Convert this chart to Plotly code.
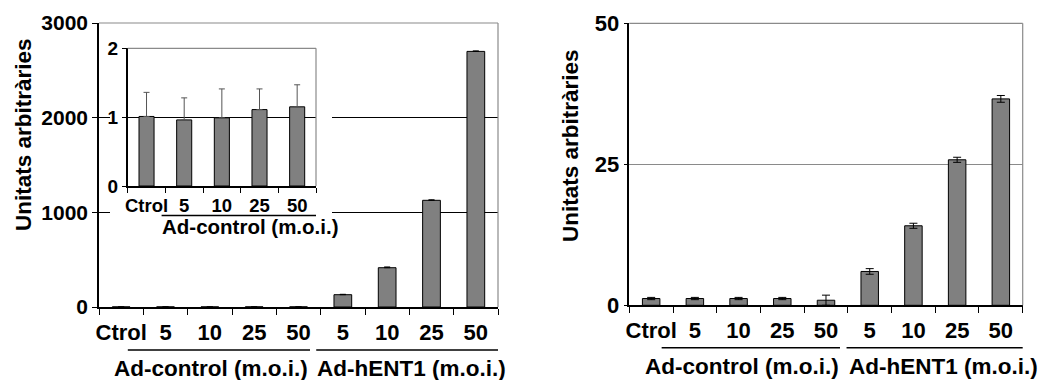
import plotly.graph_objects as go

# ---------------- data ----------------
categories = ["Ctrol", "5", "10", "25", "50", "5", "10", "25", "50"]
group_labels = ["Ad-control (m.o.i.)", "Ad-hENT1 (m.o.i.)"]

left_values = [1.0, 0.96, 0.99, 1.11, 1.15, 130, 415, 1127, 2700]
left_errors = [0.35, 0.32, 0.42, 0.30, 0.32, 4, 8, 5, 5]

inset_categories = ["Ctrol", "5", "10", "25", "50"]
inset_values = [1.01, 0.96, 0.99, 1.11, 1.15]
inset_errors = [0.35, 0.32, 0.42, 0.30, 0.32]

right_values = [1.2, 1.2, 1.2, 1.2, 0.9, 6.0, 14.1, 25.8, 36.6]
right_errors = [0.2, 0.2, 0.2, 0.2, 0.9, 0.5, 0.45, 0.45, 0.6]

y_title = "Unitats arbitràries"
left_ticks = [0, 1000, 2000, 3000]
inset_ticks = [0, 1, 2]
right_ticks = [0, 25, 50]

# ---------------- style ----------------
W, H = 1048, 380
FONT = "Liberation Sans"
BAR = "#808080"
GRID_GRAY = "#8a8a8a"


def px_x(p):
    return p / W


def px_y(p):
    return (H - p) / H


def font(size):
    return dict(family=FONT, size=size, color="black", weight="bold")


fig = go.Figure()

n = len(categories)
ni = len(inset_categories)
xs = list(range(n))
xsi = list(range(ni))

fig.add_trace(go.Bar(
    x=xs, y=left_values, width=0.4, xaxis="x", yaxis="y",
    marker=dict(color=BAR, line=dict(color="black", width=1)),
    error_y=dict(type="data", symmetric=False, array=left_errors,
                 arrayminus=[0] * n, color="black", thickness=1, width=3),
    showlegend=False, hoverinfo="skip",
))
fig.add_trace(go.Bar(
    x=xsi, y=inset_values, width=0.4, xaxis="x3", yaxis="y3",
    marker=dict(color=BAR, line=dict(color="black", width=1)),
    error_y=dict(type="data", symmetric=False, array=inset_errors,
                 arrayminus=[0] * ni, color="#555555", thickness=1, width=3),
    showlegend=False, hoverinfo="skip",
))
fig.add_trace(go.Bar(
    x=xs, y=right_values, width=0.4, xaxis="x4", yaxis="y4",
    marker=dict(color=BAR, line=dict(color="black", width=1)),
    error_y=dict(type="data", array=right_errors, color="black",
                 thickness=1, width=4),
    showlegend=False, hoverinfo="skip",
))


def xaxis_cfg(domain, count, size, ticklen=6, standoff=5):
    return dict(
        domain=domain, range=[-0.5, count - 0.5],
        tickmode="array", tickvals=list(range(count)),
        ticks="", showgrid=False, zeroline=False, automargin=False,
        showline=True, linecolor="black", linewidth=1.5,
        tickfont=font(size), ticklabelstandoff=standoff,
        minor=dict(tickmode="array", tickvals=[i - 0.5 for i in range(count + 1)],
                   ticks="outside", ticklen=ticklen, tickwidth=1,
                   tickcolor="black", showgrid=False),
        fixedrange=True,
    )


def yaxis_cfg(domain, rng, tickvals, size, gridcolor, ticklen=5):
    return dict(
        domain=domain, range=rng, tickmode="array", tickvals=tickvals,
        ticks="outside", ticklen=ticklen, tickwidth=1, tickcolor="black",
        showgrid=True, gridcolor=gridcolor, gridwidth=1.2, automargin=False,
        zeroline=False, showline=True, linecolor="black", linewidth=1.5,
        tickfont=font(size), fixedrange=True,
    )


xa1 = xaxis_cfg([px_x(99), px_x(498)], n, 22)
xa1.update(anchor="y", ticktext=categories)
ya1 = yaxis_cfg([px_y(307), px_y(23)], [0, 3000], left_ticks, 21, "black")
ya1.update(anchor="x")

# empty "cover" subplot: white area behind the inset that hides the main gridlines
xa2 = dict(domain=[px_x(110), px_x(332)], range=[0, 1], visible=False,
           anchor="y2", fixedrange=True, automargin=False)
ya2 = dict(domain=[px_y(242), px_y(38)], range=[0, 1], visible=False,
           anchor="x2", fixedrange=True, automargin=False)

xa3 = xaxis_cfg([px_x(127.7), px_x(316)], ni, 18.5, ticklen=5, standoff=2)
xa3.update(anchor="y3", ticktext=inset_categories)
ya3 = yaxis_cfg([px_y(186), px_y(48.3)], [0, 2], inset_ticks, 19, "black", ticklen=4)
ya3.update(anchor="x3")

xa4 = xaxis_cfg([px_x(629.3), px_x(1022.7)], n, 22)
xa4.update(anchor="y4", ticktext=categories)
ya4 = yaxis_cfg([px_y(305.3), px_y(23.3)], [0, 50], right_ticks, 22, GRID_GRAY, ticklen=4)
ya4.update(anchor="x4")

shapes = []
shapes.append(dict(type="rect", xref="x2", yref="y2", x0=0, x1=1, y0=0, y1=1,
                   fillcolor="white", line=dict(width=0), layer="below"))
# gray top/right frame for each plot
for xr, yr in [("x domain", "y domain"), ("x3 domain", "y3 domain"), ("x4 domain", "y4 domain")]:
    shapes.append(dict(type="line", xref=xr, yref=yr, x0=0, x1=1, y0=1, y1=1,
                       line=dict(color=GRID_GRAY, width=1.2)))
    shapes.append(dict(type="line", xref=xr, yref=yr, x0=1, x1=1, y0=0, y1=1,
                       line=dict(color=GRID_GRAY, width=1.2)))

# group underlines
for xr, spans, ypix in [
    ("x", [(0.15, 4.26), (4.40, 8.5)], 350),
    ("x4", [(0.24, 4.32), (4.47, 8.58)], 347.7),
]:
    for a, b in spans:
        shapes.append(dict(type="line", xref=xr, yref="paper", x0=a, x1=b,
                           y0=px_y(ypix), y1=px_y(ypix),
                           line=dict(color="black", width=1.5)))
shapes.append(dict(type="line", xref="x3", yref="paper", x0=0.40, x1=4.53,
                   y0=px_y(215.5), y1=px_y(215.5),
                   line=dict(color="black", width=1.5)))

annotations = []
for xr, pos, ypix, size in [
    ("x", [2.03, 6.56], 368, 22.5),
    ("x4", [2.07, 6.68], 366.7, 22.5),
]:
    for lab, xp in zip(group_labels, pos):
        annotations.append(dict(text=lab, xref=xr, yref="paper", x=xp, y=px_y(ypix),
                                xanchor="center", yanchor="middle", showarrow=False,
                                font=font(size)))
annotations.append(dict(text=group_labels[0], xref="x3", yref="paper", x=2.77,
                        y=px_y(226.7), xanchor="center", yanchor="middle",
                        showarrow=False, font=font(20.5)))
for xp, yp in [(23, 135), (570, 146)]:
    annotations.append(dict(text=y_title, xref="paper", yref="paper",
                            x=px_x(xp), y=px_y(yp), textangle=-90,
                            xanchor="center", yanchor="middle", showarrow=False,
                            font=font(22.5)))

fig.update_layout(
    width=W, height=H, margin=dict(l=0, r=0, t=0, b=0, autoexpand=False),
    paper_bgcolor="white", plot_bgcolor="white",
    xaxis=xa1, yaxis=ya1, xaxis2=xa2, yaxis2=ya2, xaxis3=xa3, yaxis3=ya3,
    xaxis4=xa4, yaxis4=ya4,
    shapes=shapes, annotations=annotations,
    showlegend=False,
)

fig.write_html("out.html", config={"displayModeBar": False})
